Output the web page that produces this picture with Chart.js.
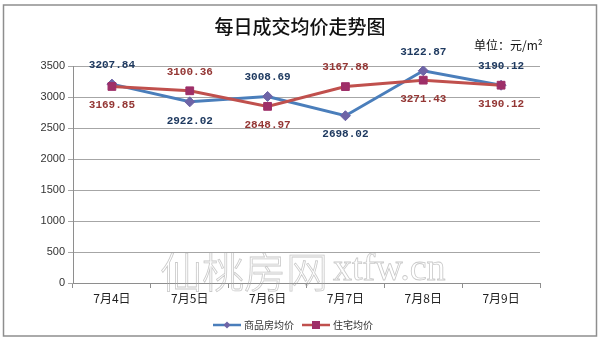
<!DOCTYPE html>
<html>
<head>
<meta charset="utf-8">
<script src="https://cdn.jsdelivr.net/npm/chart.js@4/dist/chart.umd.min.js"></script>
<style>
html,body{margin:0;padding:0;background:#fff;}
#wrap{width:600px;height:341px;position:relative;}
</style>
</head>
<body>
<div id="wrap"><canvas id="c" width="600" height="341"></canvas></div>
<script>
const categories = ["7月4日","7月5日","7月6日","7月7日","7月8日","7月9日"];
const seriesNames = ["商品房均价","住宅均价"];
const commercialValues = [3207.84, 2922.02, 3008.69, 2698.02, 3422.87, 3190.12];
const commercialLabels = ["3207.84","2922.02","3008.69","2698.02","3122.87","3190.12"];
const residentialValues = [3169.85, 3100.36, 2848.97, 3167.88, 3271.43, 3190.12];
const residentialLabels = ["3169.85","3100.36","2848.97","3167.88","3271.43","3190.12"];
const yTicks = [0,500,1000,1500,2000,2500,3000,3500];
const titleText = "每日成交均价走势图";
const unitText = "单位：元/m²";
const watermarkText = "仙桃房网";
const watermarkLatin = "xtfw.cn";

const CJK = '"Noto Sans CJK SC","Noto Sans",sans-serif';

const decorPlugin = {
  id: 'decor',
  beforeDraw(chart) {
    const ctx = chart.ctx;
    ctx.save();
    ctx.fillStyle = '#fff';
    ctx.fillRect(0,0,chart.width,chart.height);
    ctx.strokeStyle = '#8e8e8e';
    ctx.lineWidth = 1.5;
    ctx.strokeRect(3.5,5,593,331);
    ctx.fillStyle = '#111';
    ctx.font = '500 19px ' + CJK;
    ctx.textAlign = 'center';
    ctx.textBaseline = 'middle';
    ctx.fillText(titleText, 300, 27);
    ctx.font = '12px ' + CJK;
    ctx.textAlign = 'left';
    ctx.fillText(unitText, 474, 45);
    ctx.restore();
  },
  afterDatasetsDraw(chart) {
    const ctx = chart.ctx;
    const m0 = chart.getDatasetMeta(0).data;
    const m1 = chart.getDatasetMeta(1).data;
    const v0 = chart.data.datasets[0].data;
    const v1 = chart.data.datasets[1].data;
    ctx.save();
    ctx.font = 'bold 11px "Liberation Mono","DejaVu Sans Mono",monospace';
    ctx.textAlign = 'center';
    ctx.textBaseline = 'middle';
    for (let i = 0; i < m0.length; i++) {
      const blueAbove = v0[i] >= v1[i];
      const off = 19;
      ctx.fillStyle = '#1f3a60';
      ctx.fillText(commercialLabels[i], m0[i].x, m0[i].y + (blueAbove ? -off : off));
      ctx.fillStyle = '#943634';
      ctx.fillText(residentialLabels[i], m1[i].x, m1[i].y + (blueAbove ? off : -off));
    }
    ctx.restore();
  },
  afterDraw(chart) {
    const ctx = chart.ctx;
    ctx.save();
    const ds = chart.data.datasets;
    const items = [{x:213, ds:ds[0]}, {x:302, ds:ds[1]}];
    const ly = 325;
    ctx.font = '10px ' + CJK;
    ctx.textBaseline = 'middle';
    ctx.textAlign = 'left';
    items.forEach(it => {
      ctx.strokeStyle = it.ds.borderColor;
      ctx.lineWidth = 2.5;
      ctx.beginPath(); ctx.moveTo(it.x, ly); ctx.lineTo(it.x+28, ly); ctx.stroke();
      ctx.fillStyle = it.ds.pointBackgroundColor;
      const cx = it.x + 14;
      if (it.ds.pointStyle === 'rectRot') {
        ctx.beginPath(); ctx.moveTo(cx, ly-3.5); ctx.lineTo(cx+3.5, ly); ctx.lineTo(cx, ly+3.5); ctx.lineTo(cx-3.5, ly); ctx.closePath(); ctx.fill();
      } else {
        ctx.fillRect(cx-4, ly-4, 8, 8);
      }
      ctx.fillStyle = '#333';
      ctx.fillText(it.ds.label, it.x + 31, ly);
    });
    // watermark (outlined text)
    ctx.strokeStyle = 'rgba(165,165,165,0.6)';
    ctx.lineWidth = 0.8;
    ctx.font = '300 42px ' + CJK;
    ctx.textBaseline = 'middle';
    ctx.textAlign = 'left';
    ctx.strokeText(watermarkText, 160, 272);
    ctx.font = '38px "Liberation Serif","DejaVu Serif",serif';
    ctx.strokeText(watermarkLatin, 333, 270);
    ctx.restore();
  }
};

new Chart(document.getElementById('c'), {
  type: 'line',
  data: {
    labels: categories,
    datasets: [
      {
        label: seriesNames[0],
        data: commercialValues,
        borderColor: '#4a7ebb',
        backgroundColor: '#4a7ebb',
        pointBackgroundColor: '#6e64a6',
        pointBorderColor: '#6e64a6',
        pointStyle: 'rectRot',
        pointRadius: 5,
        pointBorderWidth: 1,
        borderWidth: 3,
        tension: 0,
        order: 2
      },
      {
        label: seriesNames[1],
        data: residentialValues,
        borderColor: '#c0504d',
        backgroundColor: '#c0504d',
        pointBackgroundColor: '#9e2f68',
        pointBorderColor: '#9e2f68',
        pointStyle: 'rect',
        pointRadius: 5.5,
        pointBorderWidth: 1,
        borderWidth: 3,
        tension: 0,
        order: 1
      }
    ]
  },
  options: {
    responsive: false,
    animation: false,
    devicePixelRatio: 1,
    layout: { padding: { left: 10, right: 60, top: 66, bottom: 27 } },
    plugins: {
      legend: { display: false },
      title: { display: false },
      tooltip: { enabled: false }
    },
    scales: {
      x: {
        type: 'category',
        offset: true,
        afterFit(s) { s.height = 31; },
        grid: {
          offset: true,
          drawOnChartArea: false,
          drawTicks: true,
          tickLength: 5,
          color: '#8e8e8e'
        },
        border: { color: '#8e8e8e', width: 1 },
        ticks: {
          color: '#222',
          padding: 3,
          font: { family: CJK, size: 12 },
          maxRotation: 0,
          autoSkip: false
        }
      },
      y: {
        min: 0,
        max: 3500,
        afterFit(s) { s.width = 63; },
        afterBuildTicks(s) { s.ticks = yTicks.map(v => ({ value: v })); },
        grid: {
          color: '#a6a6a6',
          tickLength: 5,
          drawTicks: true
        },
        border: { color: '#8e8e8e', width: 1 },
        ticks: {
          color: '#333',
          padding: 3,
          font: { family: '"Liberation Sans",Arial,sans-serif', size: 11 },
          callback: (v) => String(v)
        }
      }
    }
  },
  plugins: [decorPlugin]
});
</script>
</body>
</html>
